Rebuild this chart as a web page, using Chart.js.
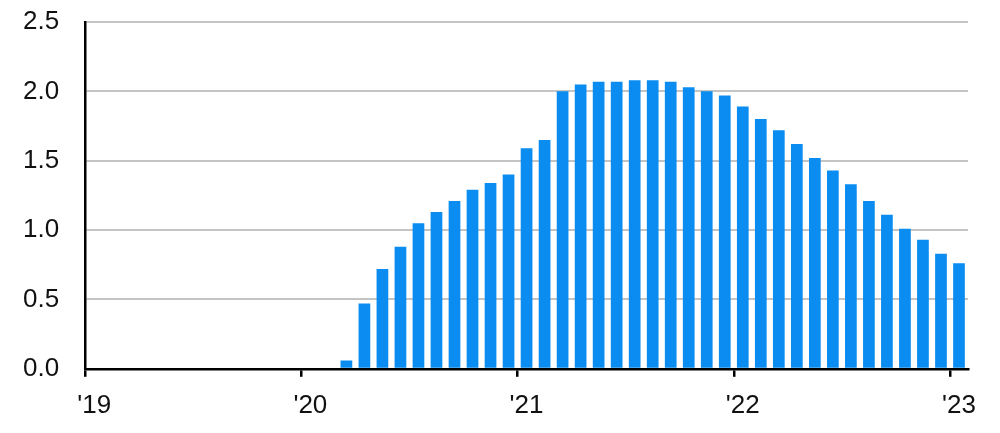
<!DOCTYPE html>
<html>
<head>
<meta charset="utf-8">
<script src="https://cdn.jsdelivr.net/npm/chart.js@4.4.0/dist/chart.umd.min.js"></script>
<style>
  html, body { margin: 0; padding: 0; background: #fff; }
  #wrap { width: 1000px; height: 433px; position: relative; }
</style>
</head>
<body>
<div id="wrap"><canvas id="c"></canvas></div>
<script>
// ---- data ----
const months = [
  '2020-03','2020-04','2020-05','2020-06','2020-07','2020-08','2020-09','2020-10','2020-11','2020-12',
  '2021-01','2021-02','2021-03','2021-04','2021-05','2021-06','2021-07','2021-08','2021-09','2021-10','2021-11','2021-12',
  '2022-01','2022-02','2022-03','2022-04','2022-05','2022-06','2022-07','2022-08','2022-09','2022-10','2022-11','2022-12',
  '2023-01'
];
const values = [
  0.06, 0.47, 0.72, 0.88, 1.05, 1.13, 1.21, 1.29, 1.34, 1.40,
  1.59, 1.65, 2.00, 2.05, 2.07, 2.07, 2.08, 2.08, 2.07, 2.03, 2.00, 1.97,
  1.89, 1.80, 1.72, 1.62, 1.52, 1.43, 1.33, 1.21, 1.11, 1.01, 0.93, 0.83,
  0.76
];
const yearTickMonths = ['2019-01','2020-01','2021-01','2022-01','2023-01'];
const yearTickLabels = ["'19","'20","'21","'22","'23"];
const axisStartMonth = '2019-01';
const axisEndMonth = '2023-02';
const yTicks = [0, 0.5, 1.0, 1.5, 2.0, 2.5];

// month string -> months since axis start (start of month)
function monthIndex(s) {
  const [y, m] = s.split('-').map(Number);
  const [y0, m0] = axisStartMonth.split('-').map(Number);
  return (y - y0) * 12 + (m - m0);
}

const points = months.map((m, i) => ({ x: monthIndex(m) + 0.5, y: values[i] }));
const tickPositions = yearTickMonths.map(monthIndex);

const FONT = '"Liberation Sans", Arial, Helvetica, sans-serif';

new Chart(document.getElementById('c'), {
  type: 'bar',
  data: {
    datasets: [{
      data: points,
      backgroundColor: '#0a8cf0',
      borderWidth: 0,
      categoryPercentage: 1,
      barPercentage: 0.65
    }]
  },
  options: {
    responsive: true,
    maintainAspectRatio: false,
    animation: false,
    layout: { padding: { left: 21, right: 32, top: 22, bottom: -1 } },
    plugins: { legend: { display: false }, tooltip: { enabled: false } },
    scales: {
      x: {
        type: 'linear',
        offset: false,
        min: monthIndex(axisStartMonth),
        max: monthIndex(axisEndMonth),
        afterBuildTicks: (scale) => {
          scale.ticks = tickPositions.map(v => ({ value: v }));
        },
        ticks: {
          callback: (v) => yearTickLabels[tickPositions.indexOf(v)],
          font: { family: FONT, size: 26 },
          color: '#111',
          maxRotation: 0,
          autoSkip: false,
          labelOffset: 9,
          padding: 13
        },
        grid: {
          offset: false,
          drawOnChartArea: false,
          drawTicks: true,
          tickLength: 8,
          tickColor: '#000',
          tickWidth: 2.5,
          color: '#000',
          lineWidth: 2.5
        },
        border: { display: true, color: '#000', width: 2.5 }
      },
      y: {
        min: 0,
        max: 2.5,
        afterBuildTicks: (scale) => {
          scale.ticks = yTicks.map(v => ({ value: v }));
        },
        ticks: {
          callback: (v) => v.toFixed(1),
          font: { family: FONT, size: 26 },
          color: '#111',
          padding: 2
        },
        grid: {
          drawTicks: true,
          tickLength: 24,
          tickColor: 'rgba(0,0,0,0)',
          color: '#c4c4c4',
          lineWidth: 2
        },
        border: { display: true, color: '#000', width: 2.5 }
      }
    }
  }
});
</script>
</body>
</html>
